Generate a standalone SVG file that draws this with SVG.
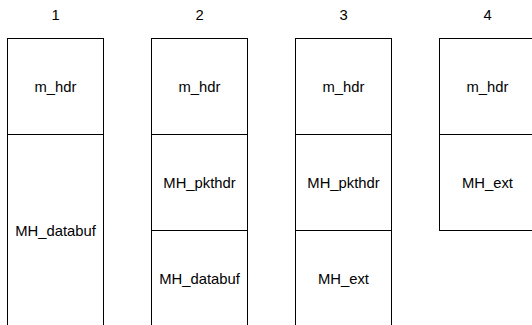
<svg xmlns="http://www.w3.org/2000/svg" width="532" height="325" viewBox="0 0 532 325">
  <style>
    .cell { fill: #ffffff; stroke: #000000; stroke-width: 1; }
    .lbl { font-family: "Liberation Sans", Arial, Helvetica, sans-serif; font-size: 14.8px; fill: #000000; text-anchor: middle; dominant-baseline: central; }
  </style>
  <rect width="532" height="325" fill="#ffffff"/>

  <!-- column headings -->
  <g id="headings">
    <text class="lbl" x="55.5" y="15">1</text>
    <text class="lbl" x="199.5" y="15">2</text>
    <text class="lbl" x="343.5" y="15">3</text>
    <text class="lbl" x="487.5" y="15">4</text>
  </g>

  <!-- column 1 -->
  <g id="c1-m_hdr">
    <rect class="cell" x="7.5" y="38.5" width="96" height="96"/>
    <text class="lbl" x="55.5" y="86.5">m_hdr</text>
  </g>
  <g id="c1-databuf">
    <rect class="cell" x="7.5" y="134.5" width="96" height="192"/>
    <text class="lbl" x="55.5" y="230.5">MH_databuf</text>
  </g>

  <!-- column 2 -->
  <g id="c2-m_hdr">
    <rect class="cell" x="151.5" y="38.5" width="96" height="96"/>
    <text class="lbl" x="199.5" y="86.5">m_hdr</text>
  </g>
  <g id="c2-pkthdr">
    <rect class="cell" x="151.5" y="134.5" width="96" height="96"/>
    <text class="lbl" x="199.5" y="182.5">MH_pkthdr</text>
  </g>
  <g id="c2-databuf">
    <rect class="cell" x="151.5" y="230.5" width="96" height="96"/>
    <text class="lbl" x="199.5" y="278.5">MH_databuf</text>
  </g>

  <!-- column 3 -->
  <g id="c3-m_hdr">
    <rect class="cell" x="295.5" y="38.5" width="96" height="96"/>
    <text class="lbl" x="343.5" y="86.5">m_hdr</text>
  </g>
  <g id="c3-pkthdr">
    <rect class="cell" x="295.5" y="134.5" width="96" height="96"/>
    <text class="lbl" x="343.5" y="182.5">MH_pkthdr</text>
  </g>
  <g id="c3-ext">
    <rect class="cell" x="295.5" y="230.5" width="96" height="96"/>
    <text class="lbl" x="343.5" y="278.5">MH_ext</text>
  </g>

  <!-- column 4 -->
  <g id="c4-m_hdr">
    <rect class="cell" x="439.5" y="38.5" width="96" height="96"/>
    <text class="lbl" x="487.5" y="86.5">m_hdr</text>
  </g>
  <g id="c4-ext">
    <rect class="cell" x="439.5" y="134.5" width="96" height="96"/>
    <text class="lbl" x="487.5" y="182.5">MH_ext</text>
  </g>

  <g id="connectors"></g>
</svg>
